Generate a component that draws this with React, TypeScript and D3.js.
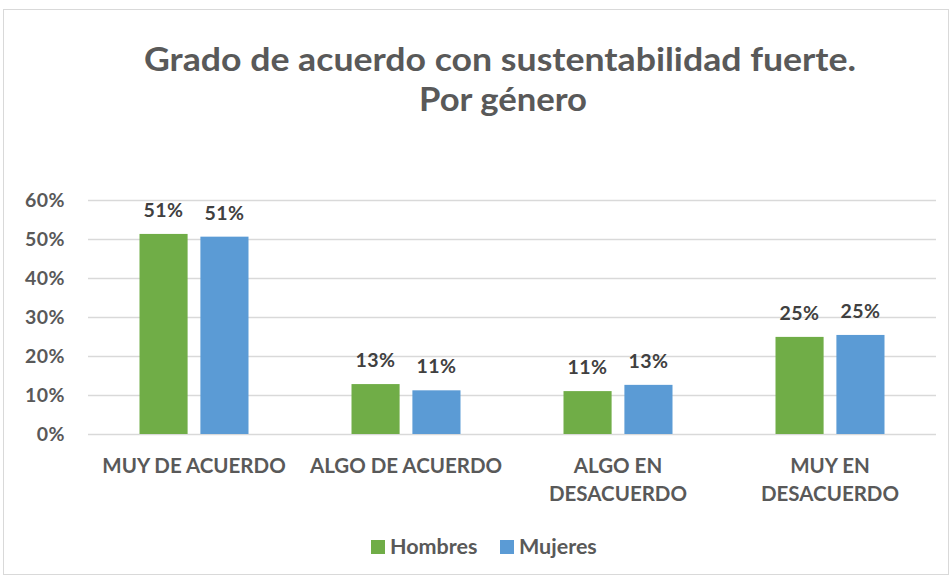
import * as d3 from 'd3';
import { useRef, useEffect } from 'react';

const categories: string[] = ['MUY DE ACUERDO', 'ALGO DE ACUERDO', 'ALGO EN\nDESACUERDO', 'MUY EN\nDESACUERDO'];
const seriesNames: string[] = ['Hombres', 'Mujeres'];
const hombres: number[] = [0.513, 0.128, 0.110, 0.249];
const mujeres: number[] = [0.506, 0.112, 0.126, 0.254];
const yTicks: number[] = [0, 0.1, 0.2, 0.3, 0.4, 0.5, 0.6];
const colors: string[] = ['#70AD47', '#5B9BD5'];

const FONT = 'Lato, "Open Sans", sans-serif';

const App = () => {
    const ref = useRef<SVGSVGElement>(null);

    useEffect(() => {
        if (!ref.current) return;
        const root = d3.select(ref.current);
        root.selectAll('*').remove();

        const width = 952, height = 577;
        const plot = { left: 88, right: 936, top: 200, bottom: 434 };

        // chart frame
        root.append('rect')
            .attr('x', 3.5).attr('y', 9.5)
            .attr('width', width - 7).attr('height', height - 12)
            .attr('fill', '#fff')
            .attr('stroke', '#d9d9d9');

        // title
        const title = root.append('text')
            .attr('text-anchor', 'middle')
            .style('font-family', FONT)
            .style('font-weight', 'bold')
            .style('font-size', '32px')
            .style('fill', '#595959');
        title.append('tspan').attr('x', 500).attr('y', 71)
            .attr('textLength', 712).attr('lengthAdjust', 'spacingAndGlyphs')
            .text('Grado de acuerdo con sustentabilidad fuerte.');
        title.append('tspan').attr('x', 503).attr('y', 111)
            .attr('textLength', 168).attr('lengthAdjust', 'spacingAndGlyphs')
            .text('Por género');

        const y = d3.scaleLinear().domain([0, 0.6]).range([plot.bottom, plot.top]);
        const x0 = d3.scaleBand<string>().domain(categories).range([plot.left, plot.right]);
        const groupW = 109;
        const x1 = d3.scaleBand<string>().domain(seriesNames).range([0, groupW]).paddingInner(0.21);
        const groupOffset = (x0.bandwidth() - groupW) / 2;

        // gridlines
        root.append('g').selectAll('line')
            .data(yTicks)
            .enter().append('line')
            .attr('x1', plot.left).attr('x2', plot.right)
            .attr('y1', d => Math.round(y(d)) + 0.5).attr('y2', d => Math.round(y(d)) + 0.5)
            .attr('stroke', '#d9d9d9')
            .attr('stroke-width', 1.3);

        // y labels
        root.append('g').selectAll('text')
            .data(yTicks)
            .enter().append('text')
            .attr('x', 65)
            .attr('y', d => y(d))
            .attr('dy', '0.36em')
            .attr('text-anchor', 'end')
            .style('font-family', FONT)
            .style('font-weight', 'bold')
            .style('font-size', '19.5px')
            .style('letter-spacing', '0.5px')
            .style('fill', '#595959')
            .text(d => d3.format('.0%')(d));

        const series = [hombres, mujeres];
        series.forEach((vals, si) => {
            const name = seriesNames[si];
            const g = root.append('g');
            g.selectAll('rect')
                .data(vals)
                .enter().append('rect')
                .attr('x', (d, i) => x0(categories[i])! + groupOffset + x1(name)!)
                .attr('y', d => y(d))
                .attr('width', x1.bandwidth())
                .attr('height', d => y(0) - y(d))
                .attr('fill', colors[si]);
            g.selectAll('text')
                .data(vals)
                .enter().append('text')
                .attr('x', (d, i) => x0(categories[i])! + groupOffset + x1(name)! + x1.bandwidth() / 2)
                .attr('y', d => y(d) - 17)
                .attr('text-anchor', 'middle')
                .style('font-family', FONT)
                .style('font-weight', 'bold')
                .style('font-size', '19.5px')
                .style('letter-spacing', '0.5px')
                .style('fill', '#404040')
                .text(d => d3.format('.0%')(d));
        });

        // category labels
        const cat = root.append('g').selectAll('text')
            .data(categories)
            .enter().append('text')
            .attr('text-anchor', 'middle')
            .style('font-family', FONT)
            .style('font-weight', 'bold')
            .style('font-size', '20.5px')
            .style('fill', '#595959');
        cat.each(function (d) {
            const lines = d.split('\n');
            const cx = x0(d)! + x0.bandwidth() / 2;
            lines.forEach((ln, li) => {
                d3.select(this).append('tspan')
                    .attr('x', cx)
                    .attr('y', 473 + li * 28)
                    .text(ln);
            });
        });

        // legend
        const legend = root.append('g');
        const legendX = [371, 500];
        seriesNames.forEach((name, i) => {
            legend.append('rect')
                .attr('x', legendX[i]).attr('y', 540)
                .attr('width', 14).attr('height', 14)
                .attr('fill', colors[i]);
            legend.append('text')
                .attr('x', legendX[i] + 19).attr('y', 554)
                .style('font-family', FONT)
                .style('font-weight', 'bold')
                .style('font-size', '21.5px')
                .style('fill', '#595959')
                .text(name);
        });
    }, []);

    return (
        <svg ref={ref} width={952} height={577}
            style={{ position: 'absolute', left: 0, top: 0, display: 'block' }}></svg>
    );
};

export default App;
